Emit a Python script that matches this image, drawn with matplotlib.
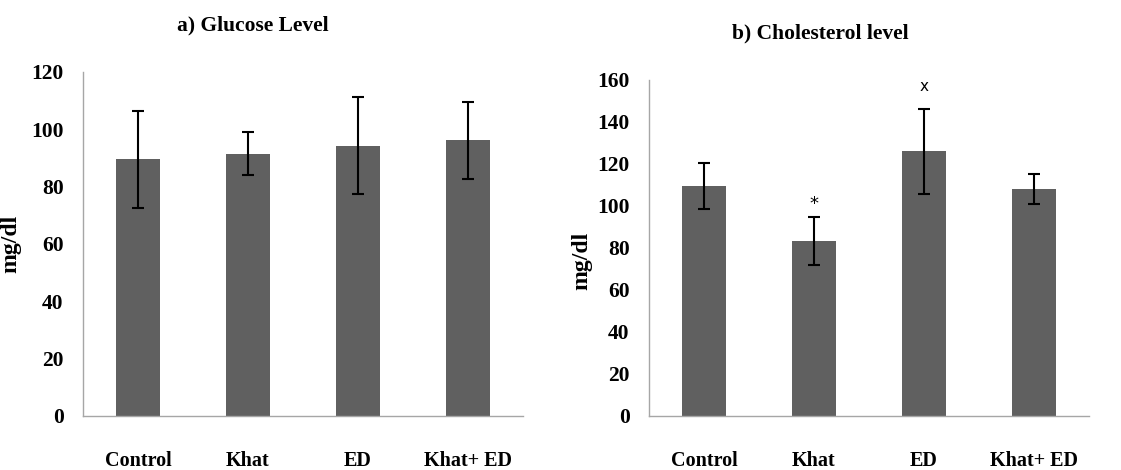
import matplotlib
matplotlib.use("Agg")
import matplotlib.pyplot as plt

categories = ["Control", "Khat", "ED", "Khat+ ED"]
glucose_mean = [89.5, 91.5, 94.3, 96.2]
glucose_err = [16.9, 7.6, 17.0, 13.4]
chol_mean = [109.5, 83.3, 126.0, 108.0]
chol_err = [11.0, 11.5, 20.3, 7.0]
chol_marks = ["", "*", "x", ""]
glucose_ticks = [0, 20, 40, 60, 80, 100, 120]
chol_ticks = [0, 20, 40, 60, 80, 100, 120, 140, 160]

FONT = "Liberation Serif"
BAR = "#606060"
SPINE = "#a6a6a6"

fig = plt.figure(figsize=(11.21, 4.70), dpi=100)
ax1 = fig.add_axes([0.074, 0.115, 0.3925, 0.732])
ax2 = fig.add_axes([0.579, 0.115, 0.3925, 0.715])

def style(ax, means, errs, ticks, title, title_pos, ylab_pos):
    x = list(range(len(categories)))
    ax.bar(x, means, width=0.4, color=BAR, zorder=2)
    ax.errorbar(x, means, yerr=errs, fmt="none", ecolor="black",
                elinewidth=1.5, capsize=4, capthick=1.5, zorder=3)
    ax.set_xlim(-0.5, 3.5)
    ax.set_ylim(0, ticks[-1])
    ax.set_yticks(ticks)
    ax.set_yticklabels([str(t) for t in ticks], fontfamily=FONT,
                       fontweight="bold", fontsize=15.5)
    ax.set_xticks(x)
    ax.set_xticklabels(categories, fontfamily=FONT, fontweight="bold",
                       fontsize=14.5)
    ax.tick_params(axis="y", length=0, pad=14)
    ax.tick_params(axis="x", length=0, pad=25)
    for s in ["top", "right"]:
        ax.spines[s].set_visible(False)
    for s in ["left", "bottom"]:
        ax.spines[s].set_color(SPINE)
        ax.spines[s].set_linewidth(1.0)
    ax.set_ylabel("mg/dl", fontfamily=FONT, fontweight="bold", fontsize=17)
    ax.yaxis.set_label_coords(*ylab_pos)
    fig.text(title_pos[0], title_pos[1], title, fontfamily=FONT,
             fontweight="bold", fontsize=15.5, ha="center", va="center")

style(ax1, glucose_mean, glucose_err, glucose_ticks, "a) Glucose Level",
      (253 / 1121, 1 - 25 / 470), (-0.14, 0.5))
style(ax2, chol_mean, chol_err, chol_ticks, "b) Cholesterol level",
      (820 / 1121, 1 - 33 / 470), (-0.13, 0.46))

for i, m in enumerate(chol_marks):
    if m == "*":
        ax2.text(i, chol_mean[i] + chol_err[i] + 2, m, ha="center",
                 va="bottom", fontsize=13, fontfamily="DejaVu Sans")
    elif m:
        ax2.text(i, chol_mean[i] + chol_err[i] + 7, m, ha="center",
                 va="bottom", fontsize=11, fontfamily="DejaVu Sans")

fig.savefig("out.png", dpi=100)
